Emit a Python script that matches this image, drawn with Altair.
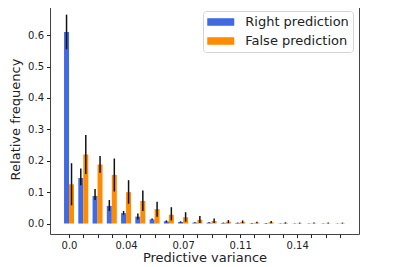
import altair as alt
import pandas as pd

tick_labels = ["0.0", "0.04", "0.07", "0.11", "0.14"]
series_names = ["Right prediction", "False prediction"]

right = [0.61, 0.145, 0.088, 0.056, 0.033, 0.022, 0.013, 0.007, 0.005, 0.003,
         0.003, 0.002, 0.002, 0.001, 0.001, 0.0005, 0.0005, 0.0005, 0.0005, 0.0003]
right_lo = [0.555, 0.122, 0.075, 0.040, 0.028, 0.013, 0.011, 0.004, 0.003, 0.002,
            0.002, 0.001, 0.001, 0.0, 0.0, 0.0, 0.0, 0.0, 0.0, 0.0]
right_hi = [0.665, 0.175, 0.110, 0.075, 0.040, 0.032, 0.016, 0.010, 0.007, 0.004,
            0.004, 0.003, 0.003, 0.002, 0.002, 0.001, 0.001, 0.001, 0.001, 0.001]

false = [0.125, 0.220, 0.188, 0.155, 0.100, 0.072, 0.046, 0.028, 0.020, 0.012,
         0.008, 0.006, 0.005, 0.003, 0.004, 0.002, 0.001, 0.001, 0.001, 0.001]
false_lo = [0.058, 0.158, 0.162, 0.102, 0.063, 0.040, 0.022, 0.010, 0.006, 0.002,
            0.002, 0.001, 0.001, 0.001, 0.001, 0.0, 0.0, 0.0, 0.0, 0.0]
false_hi = [0.192, 0.282, 0.215, 0.207, 0.138, 0.105, 0.069, 0.052, 0.036, 0.024,
            0.016, 0.011, 0.010, 0.006, 0.008, 0.004, 0.003, 0.003, 0.003, 0.003]

y_ticks = [0.0, 0.1, 0.2, 0.3, 0.4, 0.5, 0.6]

rows = []
for i in range(len(right)):
    rows.append({"bin": i, "series": series_names[0], "side": -1,
                 "value": right[i], "lo": right_lo[i], "hi": right_hi[i]})
    rows.append({"bin": i, "series": series_names[1], "side": 1,
                 "value": false[i], "lo": false_lo[i], "hi": false_hi[i]})
df = pd.DataFrame(rows)

bw = 0.35
label_expr = ("datum.value % 4 == 0 ? " + str(tick_labels) +
              "[floor(datum.value / 4)] : ''")

FONT = "DejaVu Sans"
INK = "#222"

xscale = alt.Scale(domain=[-1.335, 20.335], nice=False, zero=False)
yscale = alt.Scale(domain=[-0.0333, 0.699], nice=False, zero=False)

x_axis = alt.Axis(values=list(range(20)), labelExpr=label_expr, title="Predictive variance",
                  grid=False, domain=False, tickSize=3.5, tickColor=INK,
                  labelFontSize=10, labelFont=FONT, labelColor=INK,
                  titleFontSize=13, titleFont=FONT, titleFontWeight="normal",
                  titleColor=INK, labelPadding=3, titlePadding=1,
                  labelFlush=False, labelOverlap=False)
y_axis = alt.Axis(values=y_ticks, format=".1f",
                  title="Relative frequency", grid=False, domain=False,
                  tickSize=3.5, tickColor=INK, labelFontSize=10,
                  labelFont=FONT, labelColor=INK,
                  titleFontSize=13, titleFont=FONT,
                  titleFontWeight="normal", titleColor=INK,
                  labelPadding=3, titlePadding=5, labelFlush=False,
                  labelOverlap=False)

color = alt.Color("series:N",
                  scale=alt.Scale(domain=series_names, range=["#4169E1", "#FF8C00"]),
                  sort=series_names,
                  legend=alt.Legend(title=None, orient="none", legendX=153, legendY=7,
                                    symbolType="M-2,-0.56H2V0.56H-2Z", symbolSize=182,
                                    symbolStrokeWidth=0, symbolOpacity=1,
                                    symbolOffset=6.75, labelOffset=17.5,
                                    labelFontSize=13, labelFont=FONT, labelColor=INK,
                                    fillColor="white", strokeColor="#d5d5d5",
                                    padding=4, rowPadding=5, cornerRadius=3))

base = alt.Chart(df).transform_calculate(
    x0="datum.side < 0 ? datum.bin - %f : datum.bin" % bw,
    x1="datum.side < 0 ? datum.bin : datum.bin + %f" % bw,
    xc="datum.bin + datum.side * %f" % (bw / 2),
)

bars = base.mark_bar(opacity=1).encode(
    x=alt.X("x0:Q", scale=xscale, axis=x_axis),
    x2="x1:Q",
    y=alt.Y("value:Q", scale=yscale, axis=y_axis),
    y2=alt.datum(0),
    color=color,
)

errs = base.mark_rule(color="#111", strokeWidth=1.5).encode(
    x=alt.X("xc:Q", scale=xscale, axis=x_axis),
    y=alt.Y("lo:Q", scale=yscale, axis=y_axis),
    y2="hi:Q",
)

chart = alt.layer(bars, errs).properties(
    width=309, height=230,
    autosize=alt.AutoSizeParams(type="none"),
    padding={"left": 42, "top": -4, "right": 32, "bottom": 33},
).configure_view(stroke="#444", strokeWidth=1)

chart.save("out.html", embed_options={"renderer": "svg", "actions": False})
